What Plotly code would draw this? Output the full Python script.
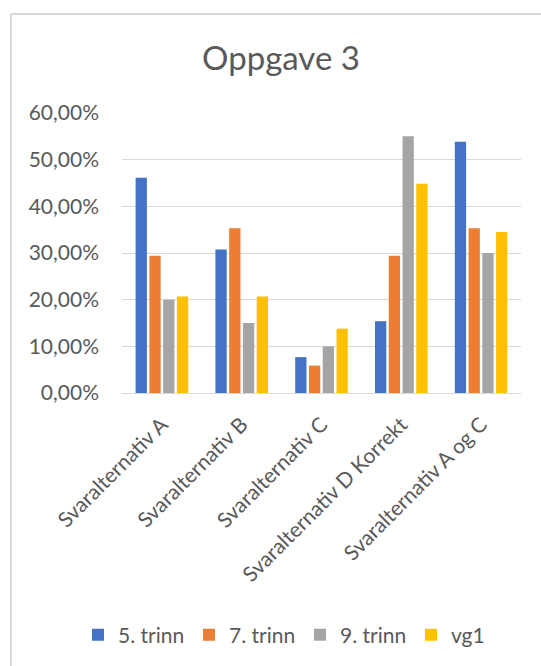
import plotly.graph_objects as go

categories = ["Svaralternativ A", "Svaralternativ B", "Svaralternativ C",
              "Svaralternativ D Korrekt", "Svaralternativ A og C"]
series_names = ["5. trinn", "7. trinn", "9. trinn", "vg1"]
trinn5 = [46.15, 30.77, 7.69, 15.38, 53.85]
trinn7 = [29.41, 35.29, 5.88, 29.41, 35.29]
trinn9 = [20.0, 15.0, 10.0, 55.0, 30.0]
vg1 = [20.69, 20.69, 13.79, 44.83, 34.48]
colors = ["#4472C4", "#ED7D31", "#A5A5A5", "#FFC000"]
y_tickvals = [0, 10, 20, 30, 40, 50, 60]
y_ticktext = ["0,00%", "10,00%", "20,00%", "30,00%", "40,00%", "50,00%", "60,00%"]

FONT = "Lato"
TXT = "#595959"

fig = go.Figure()
for name, vals, col in zip(series_names, [trinn5, trinn7, trinn9, vg1], colors):
    fig.add_trace(go.Bar(x=categories, y=vals, name=name, marker_color=col,
                         marker_line_width=0))

W, H = 541, 666
ml, mr, mt, mb = 122, 20, 113, 273
pw, ph = W - ml - mr, H - mt - mb

def px(x):
    return (x - ml) / pw

def py(y):
    return (H - mb - y) / ph

fig.update_layout(
    width=W, height=H,
    margin=dict(l=ml, r=mr, t=mt, b=mb, autoexpand=False),
    paper_bgcolor="white", plot_bgcolor="white",
    font=dict(family=FONT, color=TXT, size=21),
    title=dict(text="Oppgave 3", x=281 / W, xref="container", xanchor="center",
               y=1 - 58 / H, yref="container", yanchor="middle",
               font=dict(size=33, color=TXT, family=FONT)),
    barmode="group", bargap=0.31, bargroupgap=0.18,
    showlegend=True,
    legend=dict(orientation="h", x=px(78), xanchor="left", y=py(635), yanchor="middle",
                font=dict(size=21, color=TXT), itemwidth=30, tracegroupgap=0,
                entrywidth=66, entrywidthmode="pixels",
                traceorder="normal"),
    xaxis=dict(tickangle=-45, showgrid=False, showline=True, linecolor="#d9d9d9",
               linewidth=1, ticks="", ticklabelstandoff=10,
               tickfont=dict(size=21, color=TXT)),
    yaxis=dict(range=[0, 60], tickvals=y_tickvals, ticktext=y_ticktext,
               showgrid=True, gridcolor="#d9d9d9", gridwidth=1, zeroline=False,
               showline=False, ticks="", ticklabelstandoff=22,
               tickfont=dict(size=21, color=TXT)),
    shapes=[
        dict(type="line", xref="paper", yref="paper", x0=px(11), x1=px(545),
             y0=py(14), y1=py(14), line=dict(color="#d9d9d9", width=2)),
        dict(type="line", xref="paper", yref="paper", x0=px(11), x1=px(11),
             y0=py(14), y1=py(670), line=dict(color="#d9d9d9", width=2)),
    ],
)

fig.write_html("out.html")
